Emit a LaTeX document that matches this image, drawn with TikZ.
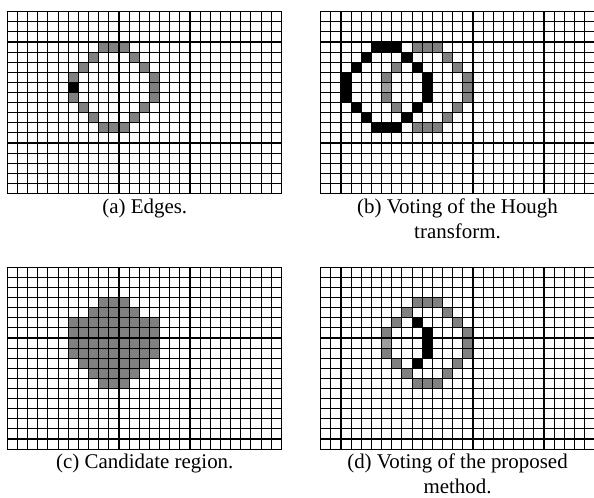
\documentclass[tikz,border=0pt]{standalone}
\usepackage{fontspec}
\setmainfont{Liberation Serif}
\definecolor{edgegray}{gray}{0.5}
\definecolor{seedgray}{gray}{0.62}
\tikzset{
  cellgrid/.style={line width=1.1bp, black, line cap=rect},
  caption/.style={font=\fontsize{21}{25}\selectfont, align=center, anchor=north, inner sep=0pt},
  panel/.style={x=10.15bp, y=-10.1bp}
}
\newcommand\pixelgrid{%
  \foreach \i in {0,...,27} \draw[cellgrid] (\i,0) -- (\i,18);
  \foreach \j in {0,...,18} \draw[cellgrid] (0,\j) -- (27,\j);
}
\begin{document}
\begin{tikzpicture}[x=1bp,y=-1bp]
\useasboundingbox (0,0) rectangle (594,498);

% (a) edge pixels of the circle
\begin{scope}[shift={(7.3,11.7)}, panel]
  \foreach \c/\r in {9/3,10/3,11/3,8/4,12/4,7/5,13/5,6/6,14/6,14/7,6/8,14/8,7/9,13/9,8/10,12/10,9/11,10/11,11/11}
    \fill[edgegray] (\c,\r) rectangle ++(1,1);
  \fill[black] (6,7) rectangle ++(1,1);
  \pixelgrid
\end{scope}

% (b) Hough voting: ring of votes around the seed edge pixel
\begin{scope}[shift={(320.7,11.7)}, panel]
  \foreach \c/\r in {9/3,10/3,11/3,12/4,7/5,13/5,6/6,14/6,14/7,6/8,14/8,7/9,13/9,12/10,9/11,10/11,11/11}
    \fill[edgegray] (\c,\r) rectangle ++(1,1);
  \fill[seedgray] (6,7) rectangle ++(1,1);
  \foreach \c/\r in {5/3,6/3,7/3,4/4,8/4,3/5,9/5,2/6,10/6,2/7,10/7,2/8,10/8,3/9,9/9,4/10,8/10,5/11,6/11,7/11}
    \fill[black] (\c,\r) rectangle ++(1,1);
  \pixelgrid
\end{scope}

% (c) candidate region
\begin{scope}[shift={(7.3,267.3)}, panel]
  \foreach \r/\a/\b in {3/9/11,4/8/12,5/6/14,6/6/14,7/6/14,8/6/14,9/7/13,10/8/12,11/9/11}
    \fill[edgegray] (\a,\r) rectangle (\b+1,\r+1);
  \pixelgrid
\end{scope}

% (d) proposed voting inside the candidate region
\begin{scope}[shift={(320.7,267.3)}, panel]
  \foreach \c/\r in {9/3,10/3,11/3,8/4,12/4,7/5,13/5,6/6,14/6,14/7,6/8,14/8,7/9,13/9,8/10,12/10,9/11,10/11,11/11}
    \fill[edgegray] (\c,\r) rectangle ++(1,1);
  \fill[seedgray] (6,7) rectangle ++(1,1);
  \foreach \c/\r in {9/5,10/6,10/7,10/8,9/9}
    \fill[black] (\c,\r) rectangle ++(1,1);
  \pixelgrid
\end{scope}

\node[caption] (capa) at (144.8,199) {(a) Edges.};
\node[caption] (capb) at (457.5,199) {(b) Voting of the Hough\\transform.};
\node[caption] (capc) at (144.8,454) {(c) Candidate region.};
\node[caption] (capd) at (457.5,454) {(d) Voting of the proposed\\method.};
\end{tikzpicture}
\end{document}
